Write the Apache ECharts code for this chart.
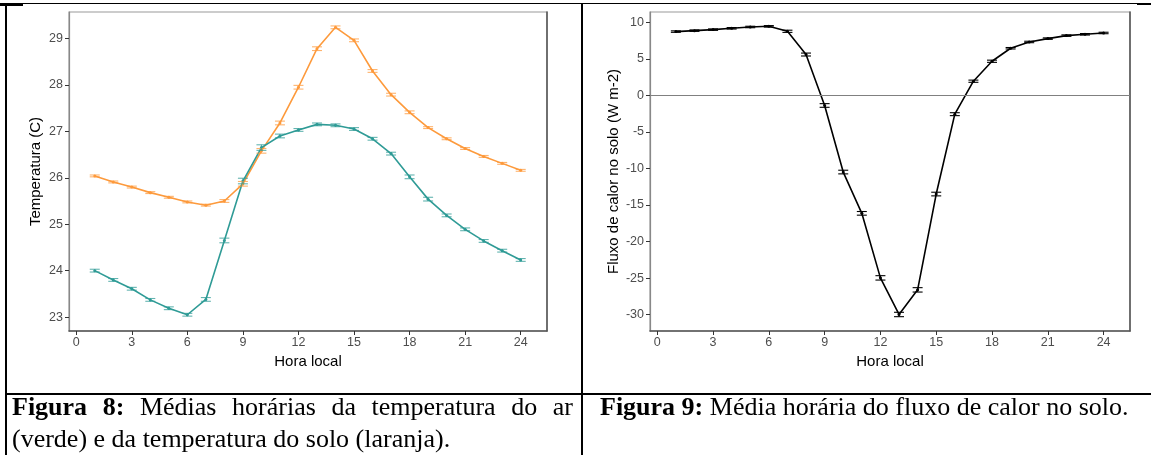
<!DOCTYPE html>
<html>
<head>
<meta charset="utf-8">
<script src="https://cdn.jsdelivr.net/npm/echarts@6/dist/echarts.min.js"></script>
<style>
  html, body { margin: 0; padding: 0; background: #fff; }
  #wrap { position: relative; width: 1151px; height: 455px; overflow: hidden; }
  #chart { position: absolute; left: 0; top: 0; width: 1151px; height: 455px; }
  .b { position: absolute; background: #000; }
  .cap { position: absolute; font-family: "Liberation Serif", "Times New Roman", serif; font-size: 26px; line-height: 32px; color: #000; }
  .cap b { font-weight: bold; }
</style>
</head>
<body>
<div id="wrap">
  <div id="chart"></div>
  <div class="b" style="left:5px;top:3px;width:1146px;height:1px;"></div>
  <div class="b" style="left:0px;top:3px;width:23px;height:3px;"></div>
  <div class="b" style="left:1137px;top:3px;width:14px;height:2px;"></div>
  <div class="b" style="left:5px;top:3px;width:2px;height:452px;"></div>
  <div class="b" style="left:581px;top:3px;width:2px;height:452px;"></div>
  <div class="b" style="left:5px;top:393px;width:1146px;height:2px;"></div>
  <div class="cap" style="left:12px;top:391px;width:561px;text-align:justify;"><b>Figura 8:</b> Médias horárias da temperatura do ar (verde) e da temperatura do solo (laranja).</div>
  <div class="cap" style="left:600px;top:391px;width:560px;white-space:nowrap;"><b>Figura 9:</b> Média horária do fluxo de calor no solo.</div>
</div>
<script>
const hours = [1,2,3,4,5,6,7,8,9,10,11,12,13,14,15,16,17,18,19,20,21,22,23,24];
const xTicks = [0,3,6,9,12,15,18,21,24];
const tempTicks = [23,24,25,26,27,28,29];
const fluxTicks = [-30,-25,-20,-15,-10,-5,0,5,10];

const soilTemp = [26.04,25.91,25.80,25.68,25.58,25.48,25.41,25.50,25.87,26.58,27.18,27.95,28.78,29.24,28.96,28.30,27.79,27.41,27.08,26.84,26.63,26.46,26.31,26.16];
const soilErr  = [0.02,0.02,0.02,0.02,0.02,0.02,0.02,0.03,0.05,0.05,0.04,0.04,0.04,0.03,0.03,0.03,0.03,0.03,0.02,0.02,0.02,0.02,0.02,0.02];
const airTemp  = [24.00,23.80,23.61,23.37,23.19,23.05,23.38,24.65,25.93,26.65,26.90,27.03,27.15,27.13,27.05,26.84,26.52,26.02,25.54,25.19,24.89,24.64,24.43,24.23];
const airErr   = [0.03,0.03,0.03,0.03,0.03,0.03,0.04,0.05,0.06,0.06,0.04,0.03,0.03,0.03,0.03,0.03,0.03,0.04,0.04,0.03,0.03,0.03,0.03,0.03];
const flux     = [8.73,8.86,9.00,9.18,9.36,9.45,8.77,5.59,-1.38,-10.49,-16.14,-24.97,-29.98,-26.61,-13.50,-2.57,1.94,4.67,6.45,7.31,7.77,8.18,8.36,8.54];
const fluxErr  = [0.1,0.1,0.1,0.1,0.1,0.1,0.15,0.2,0.25,0.25,0.25,0.3,0.3,0.3,0.25,0.2,0.15,0.15,0.1,0.1,0.1,0.1,0.1,0.1];

const ORANGE = '#FD9A3C';
const TEAL = '#2F9B96';
const FONT = '"Liberation Sans", Arial, sans-serif';

function pairs(vals) { return hours.map((h, i) => [h, vals[i]]); }
function errData(vals, errs) { return hours.map((h, i) => [h, vals[i] - errs[i], vals[i] + errs[i]]); }
function errRender(color, opacity) {
  return function (params, api) {
    const x = api.value(0);
    const lo = api.coord([x, api.value(1)]);
    const hi = api.coord([x, api.value(2)]);
    const w = 5;
    const st = { stroke: color, lineWidth: 1.1, opacity: opacity };
    return { type: 'group', children: [
      { type: 'line', shape: { x1: lo[0], y1: lo[1], x2: hi[0], y2: hi[1] }, style: st },
      { type: 'line', shape: { x1: lo[0] - w, y1: lo[1], x2: lo[0] + w, y2: lo[1] }, style: st },
      { type: 'line', shape: { x1: hi[0] - w, y1: hi[1], x2: hi[0] + w, y2: hi[1] }, style: st }
    ]};
  };
}

function xAxisCfg(gi) {
  return {
    gridIndex: gi, type: 'value', min: -0.39, max: 25.42,
    name: 'Hora local', nameLocation: 'middle', nameGap: 20,
    nameTextStyle: { fontSize: 15, color: '#000', fontFamily: FONT },
    axisLine: { show: true, onZero: false, lineStyle: { color: '#555', width: 1.5 } },
    axisTick: { show: true, length: 4, customValues: xTicks, lineStyle: { color: '#333' } },
    axisLabel: { customValues: xTicks, color: '#4D4D4D', fontSize: 12.5, fontFamily: FONT, margin: 5 },
    splitLine: { show: false }
  };
}
function yAxisCfg(gi, min, max, ticks, name, gap) {
  return {
    gridIndex: gi, type: 'value', min: min, max: max,
    name: name, nameLocation: 'middle', nameGap: gap,
    nameTextStyle: { fontSize: 15, color: '#000', fontFamily: FONT },
    axisLine: { show: true, onZero: false, lineStyle: { color: '#888', width: 1.2 } },
    axisTick: { show: true, length: 4, customValues: ticks, lineStyle: { color: '#333' } },
    axisLabel: { customValues: ticks, color: '#4D4D4D', fontSize: 12.5, fontFamily: FONT, margin: 6 },
    splitLine: { show: false }
  };
}
function rightAxis(gi, min, max) {
  return {
    gridIndex: gi, type: 'value', position: 'right', min: min, max: max,
    axisLine: { show: true, onZero: false, lineStyle: { color: '#555', width: 1.5 } },
    axisTick: { show: false }, axisLabel: { show: false }, splitLine: { show: false }
  };
}

const chart = echarts.init(document.getElementById('chart'), null, { renderer: 'canvas' });
chart.setOption({
  animation: false,
  backgroundColor: 'transparent',
  grid: [
    { left: 69, top: 12, width: 478, height: 319, show: true, borderColor: '#999', borderWidth: 1.2 },
    { left: 650, top: 12, width: 480, height: 319, show: true, borderColor: '#999', borderWidth: 1.2 }
  ],
  xAxis: [xAxisCfg(0), xAxisCfg(1)],
  yAxis: [
    yAxisCfg(0, 22.70, 29.57, tempTicks, 'Temperatura (C)', 26),
    yAxisCfg(1, -32.24, 11.41, fluxTicks, 'Fluxo de calor no solo (W m-2)', 29),
    rightAxis(0, 22.70, 29.57),
    rightAxis(1, -32.24, 11.41)
  ],
  series: [
    { type: 'line', xAxisIndex: 0, yAxisIndex: 0, data: pairs(soilTemp), symbol: 'circle', symbolSize: 3,
      lineStyle: { color: ORANGE, width: 1.6 }, itemStyle: { color: ORANGE }, z: 2 },
    { type: 'custom', xAxisIndex: 0, yAxisIndex: 0, data: errData(soilTemp, soilErr), renderItem: errRender(ORANGE, 0.75), z: 3 },
    { type: 'line', xAxisIndex: 0, yAxisIndex: 0, data: pairs(airTemp), symbol: 'circle', symbolSize: 3,
      lineStyle: { color: TEAL, width: 1.6 }, itemStyle: { color: TEAL }, z: 2 },
    { type: 'custom', xAxisIndex: 0, yAxisIndex: 0, data: errData(airTemp, airErr), renderItem: errRender(TEAL, 0.75), z: 3 },
    { type: 'line', xAxisIndex: 1, yAxisIndex: 1, data: pairs(flux), symbol: 'circle', symbolSize: 3,
      lineStyle: { color: '#000', width: 1.6 }, itemStyle: { color: '#000' }, z: 2,
      markLine: { silent: true, symbol: 'none', label: { show: false },
        lineStyle: { color: '#808080', width: 1.2, type: 'solid' }, data: [{ yAxis: 0 }] } },
    { type: 'custom', xAxisIndex: 1, yAxisIndex: 1, data: errData(flux, fluxErr), renderItem: errRender('#000', 1), z: 3 }
  ]
});
</script>
</body>
</html>
